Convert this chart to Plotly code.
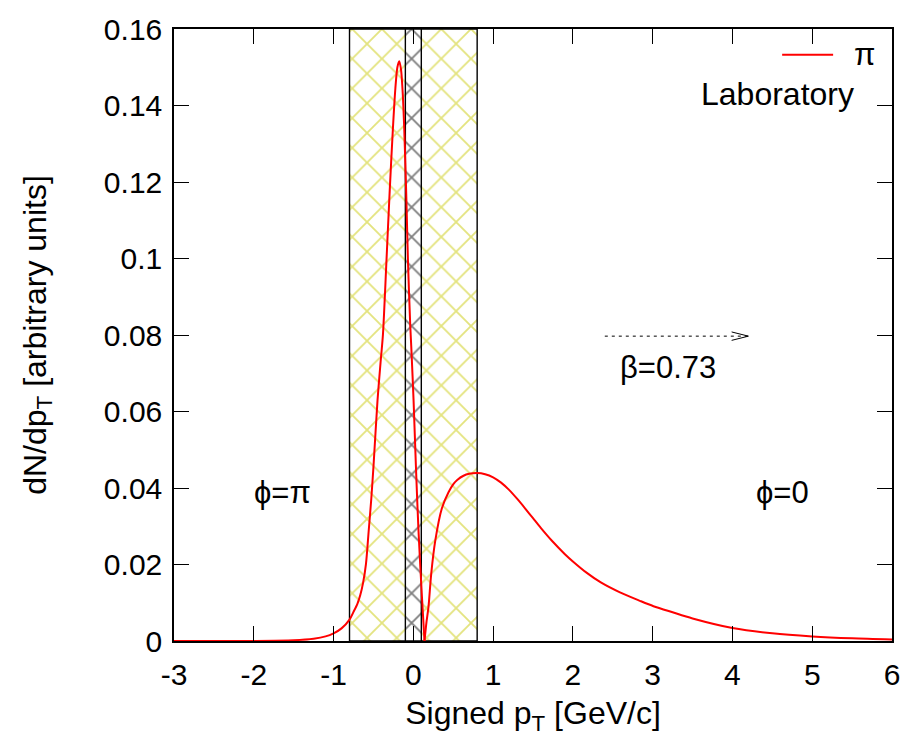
import plotly.graph_objects as go

# ---- data ----
pt = [-3.0, -2.5, -2.0, -1.5, -1.25, -1.1, -1.0, -0.9, -0.8, -0.75, -0.7, -0.665, -0.63,
      -0.594, -0.56, -0.527, -0.499, -0.449, -0.41, -0.381, -0.336, -0.298, -0.256, -0.225,
      -0.2, -0.177, -0.155, -0.135, -0.114, -0.089, -0.068, -0.039, -0.026, 0.003, 0.032,
      0.065, 0.108, 0.14, 0.165, 0.19, 0.224, 0.274, 0.358, 0.441, 0.504, 0.55, 0.629, 0.7,
      0.8, 0.9, 1.0, 1.1, 1.2, 1.3, 1.4, 1.5, 1.6, 1.737, 1.9, 2.0, 2.175, 2.35, 2.59, 2.84,
      3.01, 3.25, 3.5, 4.0, 4.5, 5.0, 5.5, 6.0]
dndpt = [0.0, 0.0, 0.00002, 0.0002, 0.0006, 0.0012, 0.0020, 0.0033, 0.0056, 0.0076, 0.0098,
         0.0120, 0.0152, 0.0201, 0.0287, 0.0372, 0.0458, 0.0629, 0.0730, 0.0801, 0.0998,
         0.1169, 0.1340, 0.1445, 0.1500, 0.1516, 0.1495, 0.1440, 0.1340, 0.1169, 0.0998,
         0.0826, 0.0770, 0.0629, 0.0458, 0.0287, 0.0115, 0.0, 0.0050, 0.0089, 0.0175, 0.0261,
         0.0347, 0.0389, 0.0411, 0.0421, 0.0432, 0.0437, 0.0439, 0.0436, 0.0428, 0.0414,
         0.0395, 0.0372, 0.0347, 0.0321, 0.0295, 0.0262, 0.0227, 0.0208, 0.0178, 0.0153,
         0.0127, 0.0105, 0.0091, 0.0075, 0.0059, 0.0034, 0.0020, 0.0012, 0.0007, 0.0004]

outer_band = [-0.8, 0.8]   # yellow cross-hatched region
inner_band = [-0.1, 0.1]   # black cross-hatched region
y_range = [0, 0.16]
x_ticks = [-3, -2, -1, 0, 1, 2, 3, 4, 5, 6]
y_ticks = [0, 0.02, 0.04, 0.06, 0.08, 0.1, 0.12, 0.14, 0.16]
y_tick_text = ["0", "0.02", "0.04", "0.06", "0.08", "0.1", "0.12", "0.14", "0.16"]
arrow_x = [2.40, 4.20]
arrow_y = 0.0797
beta_label = "β=0.73"
FONT = "Liberation Sans, Arial, sans-serif"
FS_TICK = 30
FS = 31

fig = go.Figure()


def band(xs, color, sol):
    x0, x1 = xs
    fig.add_trace(go.Scatter(
        x=[x0, x1, x1, x0, x0],
        y=[y_range[0], y_range[0], y_range[1], y_range[1], y_range[0]],
        mode="lines", fill="toself", fillcolor="rgba(255,255,255,0)",
        fillpattern=dict(shape="x", fgcolor=color, bgcolor="white", size=21, solidity=sol),
        line=dict(color="black", width=1.4), hoverinfo="skip", showlegend=False))


band(outer_band, "rgb(200,200,0)", 0.17)
band(inner_band, "black", 0.17)

# the curve touches zero at a sharp V; draw it as two smooth pieces meeting there
iz = dndpt.index(0.0, 5)
for a, b in [(0, iz + 1), (iz, len(pt))]:
    fig.add_trace(go.Scatter(x=pt[a:b], y=dndpt[a:b], mode="lines", name="π",
                             line=dict(color="red", width=2, shape="spline", smoothing=0.8),
                             showlegend=False))

# dotted arrow with open head
fig.add_trace(go.Scatter(x=arrow_x, y=[arrow_y, arrow_y], mode="lines",
                         line=dict(color="black", width=1, dash="3px,4px"),
                         hoverinfo="skip", showlegend=False))
head_dx = 0.21
head_dy = 0.0011
fig.add_trace(go.Scatter(
    x=[arrow_x[1] - head_dx, arrow_x[1], arrow_x[1] - head_dx],
    y=[arrow_y + head_dy, arrow_y, arrow_y - head_dy],
    mode="lines", line=dict(color="black", width=1), hoverinfo="skip", showlegend=False))

tf = dict(family=FONT, size=FS, color="black")
titlef = dict(family=FONT, size=32, color="black")
tickf = dict(family=FONT, size=FS_TICK, color="black")
fig.add_annotation(x=3.19, y=0.0716, text=beta_label, showarrow=False, font=tf)
fig.add_annotation(x=-1.64, y=0.0389, text="ϕ=π", showarrow=False, font=tf)
fig.add_annotation(x=4.63, y=0.0389, text="ϕ=0", showarrow=False, font=tf)

# legend-like key
fig.add_shape(type="line", xref="paper", yref="paper", x0=0.847, x1=0.918, y0=0.958, y1=0.958,
              line=dict(color="red", width=2))
fig.add_annotation(xref="paper", yref="paper", x=0.962, y=0.958, text="π", showarrow=False,
                   font=tf, xanchor="center", yanchor="middle")
fig.add_annotation(xref="paper", yref="paper", x=0.950, y=0.894, text="Laboratory",
                   showarrow=False, font=titlef, xanchor="right", yanchor="middle")

axis_common = dict(showgrid=False, zeroline=False, showline=True, linecolor="black",
                   linewidth=1.5, mirror="ticks", ticks="inside", ticklen=15, tickwidth=1.2,
                   tickcolor="black", tickfont=tickf)
fig.update_xaxes(range=[-3, 6], tickvals=x_ticks, ticktext=[str(v) for v in x_ticks],
                 title=dict(text="Signed p<sub>T</sub> [GeV/c]", font=titlef, standoff=12),
                 ticklabelstandoff=6, **axis_common)
fig.update_yaxes(range=y_range, tickvals=y_ticks, ticktext=y_tick_text,
                 title=dict(text="dN/dp<sub>T</sub> [arbitrary units]", font=titlef, standoff=48),
                 ticklabelstandoff=4, **axis_common)

fig.update_layout(width=921, height=740, margin=dict(l=174, r=29, t=19, b=99),
                  plot_bgcolor="white", paper_bgcolor="white", font=tf, showlegend=False)

fig.write_html("out.html")
